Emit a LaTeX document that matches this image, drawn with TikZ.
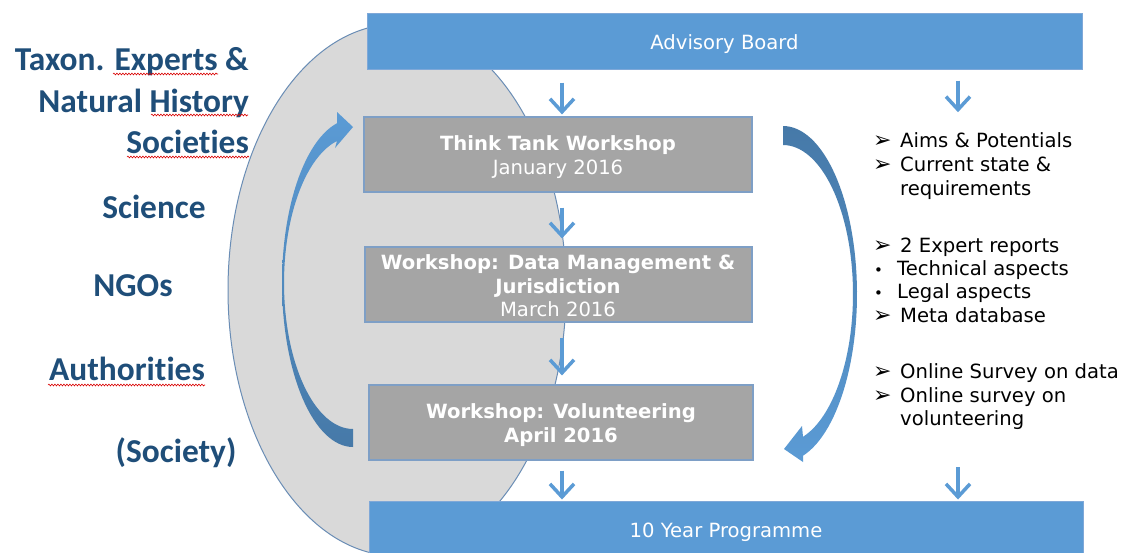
\documentclass[tikz,border=0pt]{standalone}
\usepackage{fontspec}
\setmainfont{DejaVu Sans}
\newfontfamily\labfont[Ligatures={NoCommon,NoContextual},RawFeature={-liga;-calt;-clig;-dlig}]{Carlito}
\usetikzlibrary{arrows.meta,decorations.pathmorphing}
\definecolor{barblue}{HTML}{5B9BD5}
\definecolor{barline}{HTML}{7FA8D8}
\definecolor{darkarrow}{HTML}{4679A8}
\definecolor{boxgray}{HTML}{A5A5A5}
\definecolor{boxline}{HTML}{7E9FC6}
\definecolor{ellfill}{HTML}{D9D9D9}
\definecolor{ellline}{HTML}{6A8DB5}
\definecolor{navy}{HTML}{1F4E79}
\begin{document}
\begin{tikzpicture}[x=1pt,y=-1pt,
  bar/.style={draw=barline, line width=1pt, fill=barblue, inner sep=0pt},
  wbox/.style={draw=boxline, line width=1.2pt, fill=boxgray, inner sep=0pt},
  wtext/.style={text=white, inner sep=0pt, anchor=base, font=\fontsize{19.6}{23.5}\selectfont},
  btext/.style={wtext, font=\fontsize{19.6}{23.5}\selectfont\bfseries},
  ltext/.style={text=black, inner sep=0pt, anchor=base west, font=\fontsize{19.6}{23.5}\selectfont},
  plabel/.style={text=navy, inner sep=0pt, font=\fontsize{33.4}{41}\selectfont\labfont\bfseries},
  smallarrow/.style={draw=barblue, line width=3.5pt, -{Straight Barb[length=13pt,width=24pt]}},
  wavy/.style={draw=red!85!black, line width=0.6pt, decorate, decoration={snake, amplitude=0.9pt, segment length=3pt}},
  ]
\useasboundingbox (0,0) rectangle (1124,552);
\fill[white] (0,0) rectangle (1124,552);

% big ellipse
\draw[ellline, fill=ellfill, line width=1pt] (397,290) ellipse[x radius=169, y radius=266];

% bars and boxes
\node[bar, minimum width=715pt, minimum height=56pt] (adv) at (724.5,41) {};
\node[bar, minimum width=714pt, minimum height=56pt] (ten) at (726,529) {};
\node[wbox, minimum width=388pt, minimum height=75pt] (tt) at (558,154.5) {};
\node[wbox, minimum width=387pt, minimum height=75pt] (dm) at (558.5,284.5) {};
\node[wbox, minimum width=384pt, minimum height=75pt] (vol) at (561,422.5) {};

% texts in bars and boxes
\node[wtext] (advt) at (724.5,49) {Advisory Board};
\node[wtext] (tent) at (726,537) {10 Year Programme};
\node[btext] (tt1) at (558,150) {Think Tank Workshop};
\node[wtext] (tt2) at (558,174) {January 2016};
\node[btext] (dm1) at (558,269) {Workshop: Data Management \&};
\node[btext] (dm2) at (558,293) {Jurisdiction};
\node[wtext] (dm3) at (558,316) {March 2016};
\node[btext] (vol1) at (561,418) {Workshop: Volunteering};
\node[btext] (vol2) at (561,442) {April 2016};

% curved arrows
\shade[top color=barblue, bottom color=darkarrow]
  plot[domain=90:257, samples=60] ({353+71*cos(\x)},{283+164*sin(\x)})
  -- (337,112) -- (353,127) -- (335,148)
  -- plot[domain=256.6:90, samples=60] ({353+69*cos(\x)},{283+146*sin(\x)}) -- cycle;
\shade[top color=darkarrow, bottom color=barblue]
  plot[domain=-90:74.3, samples=60] ({783+74*cos(\x)},{294+168*sin(\x)})
  -- (803,462) -- (784,449) -- (802,426)
  -- plot[domain=73.4:-90, samples=60] ({783+70*cos(\x)},{294+149*sin(\x)}) -- cycle;

% right list
\newcommand{\arrbul}{\makebox[27pt][l]{\fontsize{22}{22}\selectfont ➢}}
\newcommand{\dotbul}{\makebox[24pt][l]{\hspace{1pt}\fontsize{15}{15}\selectfont •}}
\node[ltext] (r1) at (873,147.3) {\arrbul Aims \& Potentials};
\node[ltext] (r2) at (873,171) {\arrbul Current state \&};
\node[ltext] (r3) at (873,195) {\hspace*{27pt}requirements};
\node[ltext] (r4) at (873,252) {\arrbul 2 Expert reports};
\node[ltext] (r5) at (873,275) {\dotbul Technical aspects};
\node[ltext] (r6) at (873,298) {\dotbul Legal aspects};
\node[ltext] (r7) at (873,322) {\arrbul Meta database};
\node[ltext] (r8) at (873,378) {\arrbul Online Survey on data};
\node[ltext] (r9) at (873,402) {\arrbul Online survey on};
\node[ltext] (r10) at (873,425) {\hspace*{27pt}volunteering};

% small arrows
\coordinate (xa) at (562,0);
\coordinate (xb) at (958,0);
\draw[smallarrow, shorten <=13pt, shorten >=2pt] (adv.south -| xa) -- (tt.north -| xa);
\draw[smallarrow, shorten <=15pt, shorten >=8pt] (tt.south -| xa) -- (dm.north -| xa);
\draw[smallarrow, shorten <=15pt, shorten >=9pt] (dm.south -| xa) -- (vol.north -| xa);
\draw[smallarrow, shorten <=10pt, shorten >=1pt] (vol.south -| xa) -- (ten.north -| xa);
\draw[smallarrow, shorten <=11pt, shorten >=20pt] (adv.south -| xb) -- (r1.north -| xb);
\draw[smallarrow, shorten <=38pt, shorten >=1pt] (r10.south -| xb) -- (ten.north -| xb);

% left labels
\node[plabel, anchor=base east] (l1) at (249,70) {Taxon. Experts \&};
\node[plabel, anchor=base east] (l2) at (249,112) {Natural History};
\node[plabel, anchor=base east] (l3) at (249,153) {Societ\kern0pt ies};
\node[plabel, anchor=base] (l4) at (154,218) {Science};
\node[plabel, anchor=base] (l5) at (133,296) {NGOs};
\node[plabel, anchor=base] (l6) at (127,380) {Authorit\kern0pt ies};
\node[plabel, anchor=base] (l7) at (176,462) {(Society)};

% spell-check underlines
\draw[wavy] (113,74) -- (218,74);
\draw[wavy] (151,115) -- (248,115);
\draw[wavy] (127,157) -- (249,157);
\draw[wavy] (48,385) -- (205,385);
\end{tikzpicture}
\end{document}
